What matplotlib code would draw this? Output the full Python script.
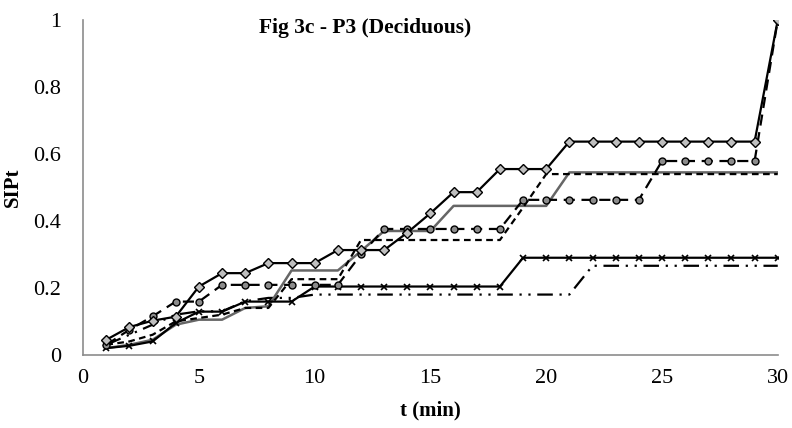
import numpy as np
import matplotlib.pyplot as plt

# time steps (min)
t = np.arange(1, 31)

# SIPt curves
s_diamond = [0.045, 0.083, 0.102, 0.114, 0.204, 0.244, 0.244, 0.274, 0.274, 0.274,
             0.313, 0.313, 0.313, 0.365, 0.423, 0.486, 0.486, 0.555, 0.555, 0.555,
             0.637, 0.637, 0.637, 0.637, 0.637, 0.637, 0.637, 0.637, 0.637, 1.0]
s_circle = [0.03, 0.075, 0.115, 0.159, 0.159, 0.209, 0.209, 0.209, 0.209, 0.209,
            0.209, 0.30, 0.376, 0.376, 0.376, 0.376, 0.376, 0.376, 0.463, 0.463,
            0.463, 0.463, 0.463, 0.463, 0.579, 0.579, 0.579, 0.579, 0.579, 1.0]
s_dash = [0.03, 0.04, 0.06, 0.10, 0.11, 0.12, 0.14, 0.14, 0.226, 0.226,
          0.226, 0.343, 0.343, 0.343, 0.343, 0.343, 0.343, 0.343, 0.44, 0.54,
          0.54, 0.54, 0.54, 0.54, 0.54, 0.54, 0.54, 0.54, 0.54, 0.54]
s_gray = [0.02, 0.03, 0.045, 0.09, 0.105, 0.105, 0.14, 0.145, 0.252, 0.252,
          0.252, 0.31, 0.37, 0.37, 0.37, 0.445, 0.445, 0.445, 0.445, 0.445,
          0.545, 0.545, 0.545, 0.545, 0.545, 0.545, 0.545, 0.545, 0.545, 0.545]
s_cross = [0.02, 0.027, 0.04, 0.095, 0.129, 0.129, 0.159, 0.159, 0.159, 0.204,
           0.204, 0.204, 0.204, 0.204, 0.204, 0.204, 0.204, 0.204, 0.29, 0.29,
           0.29, 0.29, 0.29, 0.29, 0.29, 0.29, 0.29, 0.29, 0.29, 0.29]
s_dashdot = [0.03, 0.06, 0.09, 0.12, 0.13, 0.13, 0.16, 0.17, 0.17, 0.18,
             0.18, 0.18, 0.18, 0.18, 0.18, 0.18, 0.18, 0.18, 0.18, 0.18,
             0.18, 0.266, 0.266, 0.266, 0.266, 0.266, 0.266, 0.266, 0.266, 0.266]

plt.rcParams['font.family'] = 'Liberation Serif'

fig = plt.figure(figsize=(7.92, 4.28), dpi=100)
ax = fig.add_axes([0.105, 0.171, 0.877, 0.782])

ax.plot(t, s_dashdot, color='black', lw=1.6, ls=(0, (7, 3, 1, 3, 1, 3)))
ax.plot(t, s_gray, color='#666666', lw=1.8)
ax.plot(t, s_dash, color='black', lw=1.6, ls=(0, (3, 2)))
ax.plot(t, s_cross, color='black', lw=1.6, marker='x', ms=4, mew=1.2)
ax.plot(t, s_circle, color='black', lw=1.6, ls=(0, (5, 3)),
        marker='o', ms=5, mfc='#8c8c8c', mec='black', mew=1.0)
ax.plot(t, s_diamond, color='black', lw=1.6,
        marker='D', ms=5, mfc='#bfbfbf', mec='black', mew=1.0)

ax.set_xlim(0, 30)
ax.set_ylim(0, 1)
ax.set_xticks([0, 5, 10, 15, 20, 25, 30])
ax.set_yticks([0, 0.2, 0.4, 0.6, 0.8, 1.0])
ax.set_yticklabels(['0', '0.2', '0.4', '0.6', '0.8', '1'])
ax.tick_params(axis='both', length=0, labelsize=16)
ax.tick_params(axis='y', pad=16)
ax.tick_params(axis='x', pad=10)

for side in ['top', 'right']:
    ax.spines[side].set_visible(False)
for side in ['left', 'bottom']:
    ax.spines[side].set_color('#8c8c8c')
    ax.spines[side].set_linewidth(1.2)

ax.set_xlabel('t (min)', fontsize=15, fontweight='bold', labelpad=9)
ax.set_ylabel('SIPt', fontsize=15, fontweight='bold', labelpad=7)
fig.text(0.461, 0.935, 'Fig 3c - P3 (Deciduous)', fontsize=15.5,
         fontweight='bold', ha='center', va='center')

fig.savefig('out.png', dpi=100)
